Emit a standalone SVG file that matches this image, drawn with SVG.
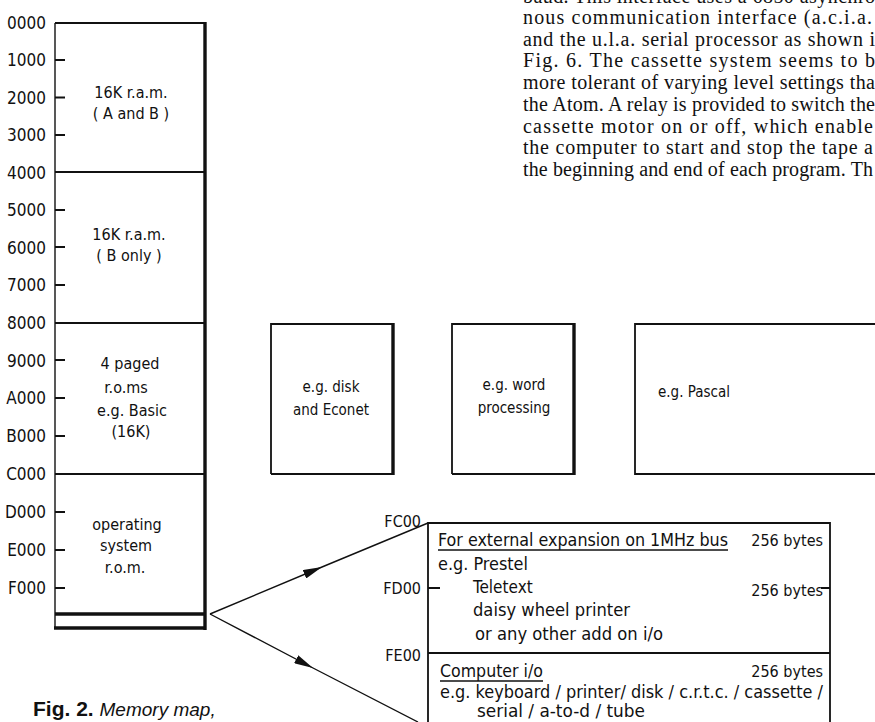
<svg xmlns="http://www.w3.org/2000/svg" width="875" height="722" viewBox="0 0 875 722">
<style>
.ln{stroke:#111;fill:none;stroke-width:1.4}
.md{stroke:#111;fill:none;stroke-width:1.8}
.tk{stroke:#111;fill:none;stroke-width:3.4}
.t{font-family:'DejaVu Sans Condensed','DejaVu Sans',sans-serif;font-stretch:condensed;font-size:16px;fill:#111}
.s{font-size:15px}
.b{font-size:17px}
.ax{font-family:'DejaVu Sans Condensed','DejaVu Sans',sans-serif;font-stretch:condensed;font-size:17px;fill:#111;text-anchor:end}
.c{text-anchor:middle}
.e{text-anchor:end}
.p{font-family:'Liberation Serif',serif;font-size:20px;fill:#111}
</style>
<defs>
<marker id="ah" viewBox="0 0 19 9" refX="19" refY="4.5" markerWidth="19" markerHeight="9" markerUnits="userSpaceOnUse" orient="auto">
<path d="M0,0 L19,4.5 L0,9 Z" fill="#111"/>
</marker>
</defs>

<g id="paragraph">
<text class="p" x="523" y="3" textLength="352" lengthAdjust="spacing">baud. This interface uses a 6850 asynchro</text>
<text class="p" x="523" y="24" textLength="349" lengthAdjust="spacing">nous communication interface (a.c.i.a.</text>
<text class="p" x="523" y="46" textLength="352" lengthAdjust="spacing">and the u.l.a. serial processor as shown i</text>
<text class="p" x="523" y="67" textLength="352" lengthAdjust="spacing">Fig. 6. The cassette system seems to b</text>
<text class="p" x="523" y="89" textLength="352" lengthAdjust="spacing">more tolerant of varying level settings tha</text>
<text class="p" x="523" y="111" textLength="352" lengthAdjust="spacing">the Atom. A relay is provided to switch the</text>
<text class="p" x="523" y="133" textLength="350" lengthAdjust="spacing">cassette motor on or off, which enable</text>
<text class="p" x="523" y="154" textLength="350" lengthAdjust="spacing">the computer to start and stop the tape a</text>
<text class="p" x="523" y="176" textLength="350" lengthAdjust="spacing">the beginning and end of each program. Th</text>
</g>

<g id="memory-map">
<line class="md" x1="55" y1="23" x2="206" y2="23"/>
<line class="ln" x1="55" y1="23" x2="55" y2="629"/>
<line class="tk" x1="205" y1="22" x2="205" y2="630"/>
<line class="md" x1="55" y1="172" x2="205" y2="172"/>
<line class="md" x1="55" y1="323" x2="205" y2="323"/>
<line class="md" x1="55" y1="474" x2="205" y2="474"/>
<line class="tk" x1="55" y1="614" x2="206" y2="614"/>
<line class="tk" x1="54" y1="628" x2="206" y2="628"/>
<path class="md" d="M55,60H65M55,97.5H65M55,135H65M55,210H65M55,247H65M55,285H65M55,360H65M55,398H65M55,436H65M55,512H65M55,550H65M55,588H65"/>
</g>

<g id="address-labels">
<text class="ax" x="46" y="29">0000</text>
<text class="ax" x="46" y="66">1000</text>
<text class="ax" x="46" y="104">2000</text>
<text class="ax" x="46" y="141">3000</text>
<text class="ax" x="46" y="179">4000</text>
<text class="ax" x="46" y="216">5000</text>
<text class="ax" x="46" y="254">6000</text>
<text class="ax" x="46" y="291">7000</text>
<text class="ax" x="46" y="329">8000</text>
<text class="ax" x="46" y="367">9000</text>
<text class="ax" x="46" y="404">A000</text>
<text class="ax" x="46" y="442">B000</text>
<text class="ax" x="46" y="480">C000</text>
<text class="ax" x="46" y="518">D000</text>
<text class="ax" x="46" y="556">E000</text>
<text class="ax" x="46" y="594">F000</text>
</g>

<g id="ram-ab">
<text class="t c" x="131" y="98">16K r.a.m.</text>
<text class="t c" x="131" y="119">( A and B )</text>
</g>
<g id="ram-b">
<text class="t c" x="129" y="240">16K r.a.m.</text>
<text class="t c" x="129" y="261">( B only )</text>
</g>
<g id="paged-roms">
<text class="t c" x="130" y="369">4 paged</text>
<text class="t c" x="126" y="393">r.o.ms</text>
<text class="t c" x="132" y="416">e.g. Basic</text>
<text class="t c" x="131" y="437">(16K)</text>
</g>
<g id="os-rom">
<text class="t c" x="127" y="530">operating</text>
<text class="t c" x="126" y="551">system</text>
<text class="t c" x="125" y="573">r.o.m.</text>
</g>

<g id="rom-disk">
<path class="md" d="M271,474V324H393"/>
<line class="tk" x1="393" y1="323" x2="393" y2="475"/>
<line class="md" x1="271" y1="474" x2="394" y2="474"/>
<text class="t s c" x="331" y="392">e.g. disk</text>
<text class="t s c" x="331" y="415">and Econet</text>
</g>
<g id="rom-word">
<path class="md" d="M452,474V324H574"/>
<line class="tk" x1="574" y1="323" x2="574" y2="475"/>
<line class="md" x1="452" y1="474" x2="575" y2="474"/>
<text class="t s c" x="514" y="390">e.g. word</text>
<text class="t s c" x="514" y="413">processing</text>
</g>
<g id="rom-pascal">
<path class="md" d="M875,324H635V474H875"/>
<text class="t s c" x="694" y="397">e.g. Pascal</text>
</g>

<g id="io-area">
<path class="md" d="M428,722V523H830V722"/>
<line class="md" x1="428" y1="653" x2="830" y2="653"/>
<path class="md" d="M428,588H440M821,588H830"/>
<text class="t e" x="421" y="527">FC00</text>
<text class="t e" x="421" y="594">FD00</text>
<text class="t e" x="421" y="661">FE00</text>
<text class="t b" x="438" y="546" textLength="290" lengthAdjust="spacingAndGlyphs">For external expansion on 1MHz bus</text>
<line class="ln" x1="438" y1="550" x2="728" y2="550"/>
<text class="t e" x="823" y="546">256 bytes</text>
<text class="t b" x="438" y="570" textLength="90" lengthAdjust="spacingAndGlyphs">e.g. Prestel</text>
<text class="t b" x="473" y="593">Teletext</text>
<text class="t b" x="473" y="616" textLength="157" lengthAdjust="spacingAndGlyphs">daisy wheel printer</text>
<text class="t b" x="475" y="640" textLength="188" lengthAdjust="spacingAndGlyphs">or any other add on i/o</text>
<text class="t e" x="823" y="596">256 bytes</text>
<text class="t b" x="440" y="677" textLength="103" lengthAdjust="spacingAndGlyphs">Computer i/o</text>
<line class="ln" x1="440" y1="681" x2="543" y2="681"/>
<text class="t e" x="823" y="677">256 bytes</text>
<text class="t b" x="440" y="698" textLength="383" lengthAdjust="spacingAndGlyphs">e.g. keyboard / printer/ disk / c.r.t.c. / cassette /</text>
<text class="t b" x="477" y="717" textLength="168" lengthAdjust="spacingAndGlyphs">serial / a-to-d / tube</text>
</g>

<g id="connectors">
<path class="ln" d="M210,614 L322,567 L428,523" marker-mid="url(#ah)"/>
<path class="ln" d="M210,614 L313,668 L418,722" marker-mid="url(#ah)"/>
</g>

<g id="caption">
<text x="33" y="716" style="font-family:'Liberation Sans',sans-serif;font-size:21px;fill:#111"><tspan font-weight="bold">Fig. 2.</tspan> <tspan font-style="italic" font-size="19px">Memory map,</tspan></text>
</g>
</svg>
